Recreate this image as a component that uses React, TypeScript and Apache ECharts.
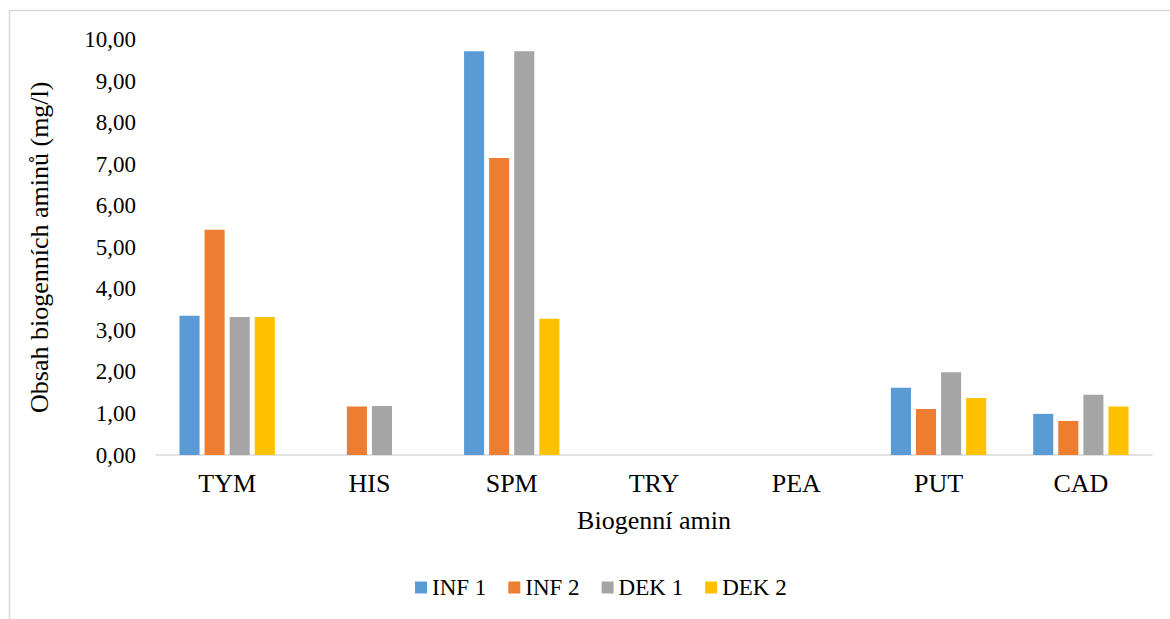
import React, { useEffect, useRef } from "react";
import * as echarts from "echarts";

// Biogenic amine categories
const categories = ["TYM", "HIS", "SPM", "TRY", "PEA", "PUT", "CAD"];

// Content per sample (mg/l)
const inf1 = [3.35, 0, 9.72, 0, 0, 1.62, 0.99];
const inf2 = [5.42, 1.17, 7.15, 0, 0, 1.11, 0.82];
const dek1 = [3.32, 1.18, 9.72, 0, 0, 1.99, 1.45];
const dek2 = [3.32, 0, 3.28, 0, 0, 1.37, 1.17];

const seriesNames = ["INF 1", "INF 2", "DEK 1", "DEK 2"];
const seriesColors = ["#5B9BD5", "#ED7D31", "#A5A5A5", "#FFC000"];

const FONT = "Liberation Serif";

export default function App() {
  const ref = useRef<HTMLDivElement>(null);

  useEffect(() => {
    if (!ref.current) return;
    const chart = echarts.init(ref.current, undefined, { renderer: "svg" });
    const values = [inf1, inf2, dek1, dek2];

    chart.setOption({
      animation: false,
      backgroundColor: "#ffffff",
      textStyle: { fontFamily: FONT, color: "#000" },
      graphic: [
        {
          type: "rect",
          shape: { x: 9.5, y: 10.5, width: 1180, height: 640 },
          style: { fill: "none", stroke: "#d9d9d9", lineWidth: 1.5 },
          silent: true,
        },
      ],
      legend: {
        data: seriesNames,
        top: 571,
        left: 410,
        itemWidth: 12,
        itemHeight: 12,
        itemGap: 22,
        icon: "rect",
        textStyle: { fontFamily: FONT, fontSize: 23, color: "#000" },
      },
      grid: { left: 156, right: 18, top: 39.5, bottom: 164, containLabel: false },
      xAxis: {
        type: "category",
        data: categories,
        name: "Biogenní amin",
        nameLocation: "middle",
        nameGap: 52,
        nameTextStyle: { fontFamily: FONT, fontSize: 26, color: "#000" },
        axisLine: { lineStyle: { color: "#d9d9d9", width: 1.5 } },
        axisTick: { show: false },
        axisLabel: { fontFamily: FONT, fontSize: 26, color: "#000", margin: 15 },
      },
      yAxis: {
        type: "value",
        min: 0,
        max: 10,
        interval: 1,
        name: "Obsah biogenních aminů (mg/l)",
        nameLocation: "middle",
        nameGap: 104,
        nameTextStyle: { fontFamily: FONT, fontSize: 26, color: "#000" },
        axisLine: { show: false },
        axisTick: { show: false },
        splitLine: { show: false },
        axisLabel: {
          fontFamily: FONT,
          fontSize: 23,
          color: "#000",
          margin: 20,
          formatter: (v: number) => v.toFixed(2).replace(".", ","),
        },
      },
      series: seriesNames.map((name, i) => ({
        name,
        type: "bar",
        data: values[i],
        barGap: "25%",
        barCategoryGap: "33%",
        itemStyle: { color: seriesColors[i] },
      })),
    });

    return () => chart.dispose();
  }, []);

  return (
    <div
      ref={ref}
      style={{ position: "fixed", left: 0, top: 0, width: 1170, height: 619 }}
    />
  );
}
